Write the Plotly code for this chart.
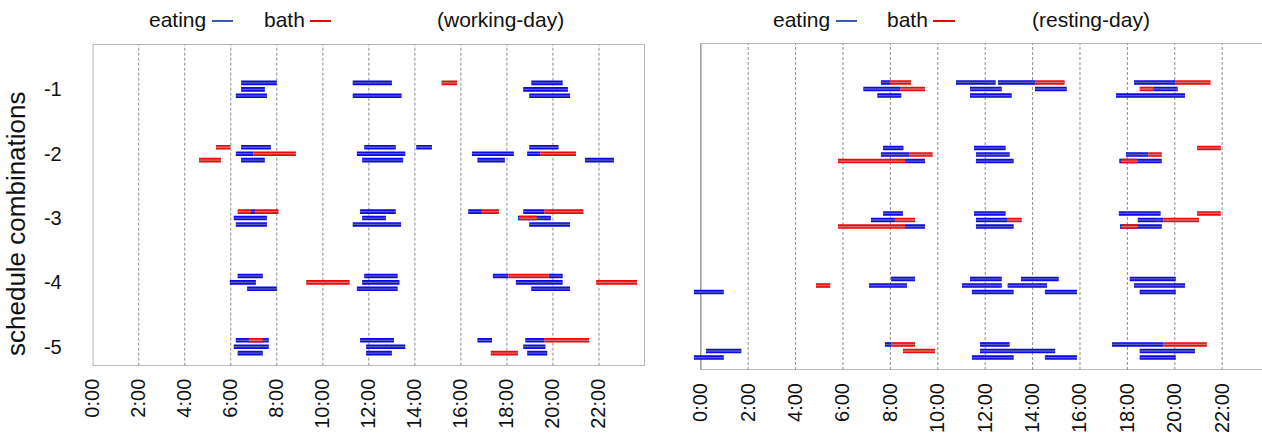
import plotly.graph_objects as go

W, H = 1262, 437

HOURS = [0, 2, 4, 6, 8, 10, 12, 14, 16, 18, 20, 22]
HOUR_LABELS = ["0:00", "2:00", "4:00", "6:00", "8:00", "10:00",
               "12:00", "14:00", "16:00", "18:00", "20:00", "22:00"]
COMBOS = [-1, -2, -3, -4, -5]
COMBO_LABELS = ["-1", "-2", "-3", "-4", "-5"]

# Working day: schedule combination, member (1 top .. 3 bottom),
# activity (E = eating, B = bath), start and end hour of each episode.
work_combo = [1, 1, 1, 1, 1, 1, 1, 1, 1,
              2, 2, 2, 2, 2, 2, 2, 2, 2, 2, 2, 2, 2, 2, 2, 2,
              3, 3, 3, 3, 3, 3, 3, 3, 3, 3, 3, 3, 3, 3, 3,
              4, 4, 4, 4, 4, 4, 4, 4, 4, 4, 4, 4, 4,
              5, 5, 5, 5, 5, 5, 5, 5, 5, 5, 5, 5, 5]
work_member = [1, 1, 1, 1, 2, 2, 3, 3, 3,
               1, 1, 1, 1, 1, 2, 2, 2, 2, 2, 2, 3, 3, 3, 3, 3,
               1, 1, 1, 1, 1, 1, 1, 1, 2, 2, 2, 2, 3, 3, 3,
               1, 1, 1, 1, 1, 2, 2, 2, 2, 2, 3, 3, 3,
               1, 1, 1, 1, 1, 1, 2, 2, 2, 3, 3, 3, 3]
work_activity = ["E", "E", "B", "E", "E", "E", "E", "E", "E",
                 "B", "E", "E", "E", "E", "E", "B", "E", "E", "E", "B", "B", "E", "E", "E", "E",
                 "B", "E", "B", "E", "E", "B", "E", "B", "E", "E", "E", "B", "E", "E", "E",
                 "E", "E", "E", "B", "E", "E", "B", "E", "E", "B", "E", "E", "E",
                 "E", "B", "E", "E", "E", "B", "E", "E", "E", "E", "E", "B", "E"]
work_start = [6.45, 11.30, 15.16, 19.06, 6.45, 18.71, 6.22, 11.30, 18.97,
              5.36, 6.45, 11.80, 14.06, 18.97, 6.22, 6.98, 11.48, 16.48, 18.88, 19.45,
              4.62, 6.45, 11.71, 16.72, 21.39,
              6.30, 6.88, 7.05, 11.62, 16.32, 16.91, 18.71, 19.63, 6.13, 11.71, 18.48, 18.53,
              6.22, 11.30, 18.97,
              6.30, 11.80, 17.39, 18.06, 19.81, 5.96, 9.28, 11.71, 18.39, 21.88, 6.71, 11.48, 19.06,
              6.22, 6.78, 11.62, 16.72, 18.80, 19.63, 6.13, 11.88, 18.71, 6.30, 11.88, 17.30, 18.88]
work_end = [8.00, 13.00, 15.83, 20.42, 7.48, 20.65, 7.57, 13.42, 20.74,
            5.98, 7.74, 13.17, 14.74, 20.24, 6.98, 8.83, 13.58, 18.30, 19.45, 21.00,
            5.57, 7.48, 13.49, 17.91, 22.65,
            6.88, 7.05, 8.07, 13.17, 16.91, 17.65, 19.63, 21.32, 7.57, 12.74, 19.91, 19.30,
            7.57, 13.40, 20.74,
            7.39, 13.25, 18.06, 19.81, 20.42, 7.09, 11.16, 13.33, 20.42, 23.65, 8.00, 13.25, 20.74,
            7.65, 7.39, 13.09, 17.35, 19.63, 21.57, 7.65, 13.58, 19.67, 7.39, 13.00, 18.48, 19.75]

# Resting day, same layout.
rest_combo = [1, 1, 1, 1, 1, 1, 1, 1, 1, 1, 1, 1, 1, 1, 1, 1,
              2, 2, 2, 2, 2, 2, 2, 2, 2, 2, 2, 2, 2,
              3, 3, 3, 3, 3, 3, 3, 3, 3, 3, 3, 3, 3, 3, 3,
              4, 4, 4, 4, 4, 4, 4, 4, 4, 4, 4, 4, 4,
              5, 5, 5, 5, 5, 5, 5, 5, 5, 5, 5, 5, 5]
rest_member = [1, 1, 1, 1, 1, 1, 1, 2, 2, 2, 2, 2, 2, 3, 3, 3,
               1, 1, 1, 2, 2, 2, 2, 2, 3, 3, 3, 3, 3,
               1, 1, 1, 1, 2, 2, 2, 2, 2, 2, 3, 3, 3, 3, 3,
               1, 1, 1, 1, 2, 2, 2, 2, 2, 3, 3, 3, 3,
               1, 1, 1, 1, 1, 2, 2, 2, 2, 3, 3, 3, 3]
rest_activity = ["E", "B", "E", "E", "B", "E", "B", "E", "B", "E", "E", "B", "E", "E", "E", "E",
                 "E", "E", "B", "E", "B", "E", "E", "B", "B", "E", "E", "E", "B",
                 "E", "E", "E", "B", "E", "B", "E", "B", "E", "B", "B", "E", "E", "E", "B",
                 "E", "E", "E", "E", "B", "E", "E", "E", "E", "E", "E", "E", "E",
                 "E", "B", "E", "E", "B", "E", "B", "E", "E", "E", "E", "E", "E"]
rest_start = [7.60, 7.99, 10.77, 12.54, 14.10, 18.28, 20.02, 6.86, 8.43, 11.36, 14.10, 18.52, 19.09,
              7.45, 11.36, 17.52,
              7.69, 11.53, 20.94, 7.60, 8.80, 11.61, 17.94, 18.88, 5.79, 8.62, 11.61, 17.66, 17.74,
              7.69, 11.53, 17.64, 20.94, 7.18, 8.19, 11.61, 12.95, 18.44, 19.52,
              5.79, 8.62, 11.61, 17.69, 17.76,
              8.03, 11.36, 13.51, 18.10, 4.86, 7.10, 11.02, 12.95, 18.28, -0.29, 11.44, 14.52, 18.52,
              7.77, 8.05, 11.78, 17.35, 19.52, 0.22, 8.53, 11.78, 18.52, -0.29, 11.44, 14.52, 18.52]
rest_end = [7.99, 8.87, 12.44, 14.10, 15.35, 20.02, 21.51, 8.43, 9.46, 12.70, 15.44, 19.09, 20.12,
            8.46, 13.12, 20.43,
            8.55, 12.86, 21.94, 8.80, 9.78, 13.03, 18.88, 19.45, 8.62, 9.46, 13.20, 19.45, 18.44,
            8.53, 12.86, 19.40, 21.94, 8.19, 9.04, 12.95, 13.54, 19.52, 21.02,
            8.62, 9.46, 13.20, 19.45, 18.44,
            9.04, 12.70, 15.10, 20.04, 5.46, 8.70, 12.70, 14.61, 20.43, 0.97, 13.20, 15.87, 20.04,
            8.05, 9.04, 13.03, 19.52, 21.35, 1.71, 9.88, 14.95, 20.85, 0.97, 13.20, 15.87, 20.04]

STYLE = {
    "E": ("rgb(8,8,235)", "rgb(95,95,175)"),
    "B": ("rgb(238,8,8)", "rgb(205,115,115)"),
}
FONT = "Liberation Sans, Arial, sans-serif"
GRID = "rgb(140,140,140)"
FRAME = "rgb(160,160,160)"


def row_y(combo, member):
    # member 1 sits just above the combination line, member 3 just below
    return -combo + 0.1 * (2 - member)


def segment_traces(combo, member, activity, start, end, xa, ya):
    traces = []
    for act in ("E", "B"):
        xs, ys = [], []
        for c, m, a, s, e in zip(combo, member, activity, start, end):
            if a != act:
                continue
            y = row_y(c, m)
            xs += [s, e, None]
            ys += [y, y, None]
        outer, inner = STYLE[act]
        traces.append(go.Scatter(x=xs, y=ys, mode="lines", xaxis=xa, yaxis=ya,
                                 line=dict(color=outer, width=4.6), hoverinfo="skip",
                                 showlegend=False))
        traces.append(go.Scatter(x=xs, y=ys, mode="lines", xaxis=xa, yaxis=ya,
                                 line=dict(color=inner, width=1.3), hoverinfo="skip",
                                 showlegend=False))
    return traces


fig = go.Figure()
for tr in segment_traces(work_combo, work_member, work_activity, work_start, work_end, "x", "y"):
    fig.add_trace(tr)
for tr in segment_traces(rest_combo, rest_member, rest_activity, rest_start, rest_end, "x2", "y2"):
    fig.add_trace(tr)

# panel geometry (pixels)
L_X0, L_X1, L_Y0, L_Y1 = 92.7, 645.0, 44.3, 365.7
R_X0, R_Y0, R_Y1 = 692.5, 43.3, 370.0
L_YR = [-5.295, -0.30]
R_YR = [-5.29, -0.302]
R_XR = [-0.35, 23.68]

shapes = []
# dashed hour grid
for h in HOURS[1:]:
    shapes.append(dict(type="line", xref="x", yref="y", x0=h, x1=h, y0=L_YR[0], y1=L_YR[1],
                       line=dict(color=GRID, width=1, dash="3px,2px"), layer="below"))
    shapes.append(dict(type="line", xref="x2", yref="y2", x0=h, x1=h, y0=R_YR[0], y1=R_YR[1],
                       line=dict(color=GRID, width=1, dash="3px,2px"), layer="below"))
# frames
shapes.append(dict(type="rect", xref="x", yref="y", x0=0, x1=24, y0=L_YR[0], y1=L_YR[1],
                   line=dict(color=FRAME, width=1.6), layer="below"))
for (x0, x1, y0, y1) in [(0, R_XR[1], R_YR[0], R_YR[0]), (0, R_XR[1], R_YR[1], R_YR[1]),
                         (0, 0, R_YR[0], R_YR[1])]:
    shapes.append(dict(type="line", xref="x2", yref="y2", x0=x0, x1=x1, y0=y0, y1=y1,
                       line=dict(color=FRAME, width=1.6), layer="below"))

# legend keys in the headers
HEAD_Y = 1 - 21 / H
for (a, b, col) in [(212, 233, "rgb(60,92,170)"), (310, 331, "rgb(240,0,0)"),
                    (836, 857, "rgb(60,92,170)"), (933, 955, "rgb(240,0,0)")]:
    shapes.append(dict(type="line", xref="paper", yref="paper", x0=a / W, x1=b / W,
                       y0=HEAD_Y, y1=HEAD_Y, line=dict(color=col, width=2)))

annotations = []
for (px, txt) in [(147, "eating"), (262, "bath"), (435, "(working-day)"),
                  (771, "eating"), (885, "bath"), (1030, "(resting-day)")]:
    annotations.append(dict(x=px / W, y=1 - 20 / H, xref="paper", yref="paper", text=txt,
                            showarrow=False, xanchor="left", yanchor="middle",
                            font=dict(size=21, color="#111", family=FONT)))
annotations.append(dict(x=16 / W, y=1 - 224 / H, xref="paper", yref="paper",
                        text="schedule combinations", textangle=-90, showarrow=False,
                        xanchor="center", yanchor="middle",
                        font=dict(size=26, color="#111", family=FONT)))

axis_common = dict(showgrid=False, zeroline=False, showline=False, ticks="",
                   automargin=False, fixedrange=True)

fig.update_layout(
    width=W, height=H,
    margin=dict(l=0, r=0, t=0, b=0),
    paper_bgcolor="white", plot_bgcolor="white",
    font=dict(family=FONT, color="#111"),
    xaxis=dict(domain=[L_X0 / W, L_X1 / W], range=[0, 24], anchor="y",
               tickvals=HOURS, ticktext=HOUR_LABELS, tickangle=-90,
               tickfont=dict(size=20), ticklabelstandoff=8, **axis_common),
    yaxis=dict(domain=[1 - L_Y1 / H, 1 - L_Y0 / H], range=L_YR, anchor="x",
               tickvals=COMBOS, ticktext=COMBO_LABELS,
               tickfont=dict(size=20), ticklabelstandoff=30, **axis_common),
    xaxis2=dict(domain=[R_X0 / W, 1.0], range=R_XR, anchor="y2",
                tickvals=HOURS, ticktext=HOUR_LABELS, tickangle=-90,
                tickfont=dict(size=20), ticklabelstandoff=8, **axis_common),
    yaxis2=dict(domain=[1 - R_Y1 / H, 1 - R_Y0 / H], range=R_YR, anchor="x2",
                showticklabels=False, **axis_common),
    shapes=shapes,
    annotations=annotations,
)

fig.write_html("out.html")
